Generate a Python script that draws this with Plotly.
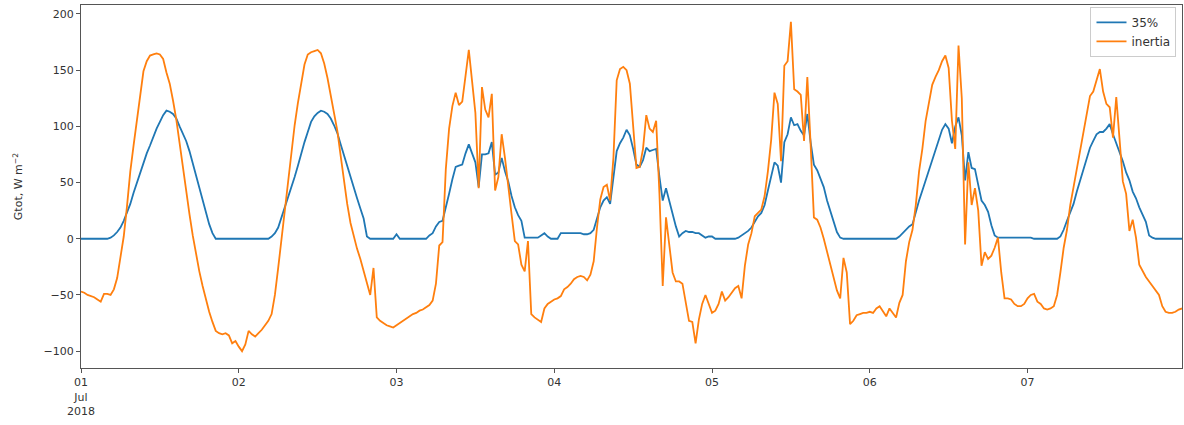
import pandas as pd
import plotly.graph_objects as go

# half-hourly samples, 1 Jul 2018 00:00 .. 7 Jul 2018 23:30
start = "2018-07-01 00:00"
n_points = 336
times = pd.date_range(start, periods=n_points, freq="30min")

series_names = ["35%", "inertia"]

g35 = [
    # day 1
    0,0,0,0,0,0,0,0,0,1,3,6,
    10,16,23,31,41,50,59,67,76,83,91,98,
    104,110,114,113,111,107,100,94,87,78,67,57,
    46,35,24,13,5,0,0,0,0,0,0,0,
    # day 2
    0,0,0,0,0,0,0,0,0,0,2,5,
    10,19,27,36,44,55,65,76,86,95,104,109,
    112,114,113,111,107,101,94,84,74,65,55,45,
    36,27,18,2,0,0,0,0,0,0,0,0,
    # day 3
    4,0,0,0,0,0,0,0,0,0,3,5,
    11,15,16,27,40,53,64,65,66,76,84,76,
    68,46,75,75,76,86,57,59,72,60,51,38,
    28,21,16,1,1,1,1,1,3,5,2,0,
    # day 4
    0,0,5,5,5,5,5,5,5,4,4,5,
    8,18,28,34,37,31,55,78,85,90,97,92,
    80,66,64,70,81,78,79,80,55,34,45,33,
    22,11,2,5,7,6,6,5,5,3,1,2,
    # day 5
    2,0,0,0,0,0,0,0,1,3,5,7,
    10,15,20,23,30,43,55,68,65,50,86,93,
    108,101,102,96,92,111,86,66,61,54,46,34,
    24,14,6,1,0,0,0,0,0,0,0,0,
    # day 6
    0,0,0,0,0,0,0,0,0,2,5,8,
    11,13,24,34,43,52,62,72,80,88,97,102,
    98,85,100,108,92,52,77,63,62,48,34,30,
    24,12,3,1,1,1,1,1,1,1,1,1,
    # day 7
    1,1,0,0,0,0,0,0,0,0,2,8,
    16,24,31,42,52,61,70,81,87,93,95,95,
    98,102,93,85,77,69,59,52,42,36,28,22,
    15,3,1,0,0,0,0,0,0,0,0,0,
]

inertia = [
    # day 1
    -47,-48,-50,-51,-52,-54,-56,-49,-49,-50,-45,-35,
    -18,2,29,60,83,105,131,149,158,163,164,165,
    164,160,148,138,123,106,85,63,41,22,3,-15,
    -29,-42,-54,-65,-74,-82,-84,-85,-84,-86,-93,-91,
    # day 2
    -96,-100,-94,-82,-85,-87,-84,-81,-77,-73,-67,-50,
    -26,0,26,52,80,101,121,140,155,164,166,167,
    168,165,156,143,128,112,96,74,52,31,14,1,
    -9,-18,-29,-39,-50,-26,-70,-73,-75,-77,-78,-79,
    # day 3
    -77,-75,-73,-71,-69,-67,-66,-64,-63,-61,-59,-55,
    -40,-6,-3,62,98,118,130,119,122,145,168,140,
    112,45,135,115,108,129,43,55,93,72,45,22,
    -2,-5,-23,-29,-2,-67,-70,-72,-74,-62,-58,-56,
    # day 4
    -54,-53,-51,-45,-43,-40,-36,-34,-33,-34,-37,-32,
    -20,10,35,46,48,34,72,141,151,153,150,138,
    99,63,64,80,110,98,95,105,40,-42,19,-5,
    -30,-38,-38,-40,-55,-73,-74,-93,-72,-58,-50,-58,
    # day 5
    -66,-64,-58,-47,-55,-52,-48,-44,-42,-53,-24,-5,
    5,20,23,26,38,60,88,130,120,69,154,158,
    193,133,131,128,87,144,84,19,17,10,0,-12,
    -24,-36,-46,-53,-17,-30,-76,-73,-68,-67,-66,-66,
    # day 6
    -65,-66,-62,-60,-64,-69,-62,-66,-70,-57,-50,-20,
    -3,8,30,60,80,105,122,137,144,150,158,163,
    152,105,80,172,125,-5,68,30,45,25,-24,-12,
    -18,-15,-8,1,-30,-53,-53,-54,-58,-60,-60,-58,
    # day 7
    -53,-50,-49,-56,-58,-62,-63,-62,-60,-50,-30,-8,
    8,30,46,62,78,94,110,127,131,142,151,131,
    120,117,90,126,87,51,40,7,17,1,-23,-29,
    -34,-38,-42,-46,-50,-60,-65,-66,-66,-65,-63,-62,
]

day_ticks = pd.date_range(start, periods=7, freq="D")
day_labels = ["01<br>Jul<br>2018", "02", "03", "04", "05", "06", "07"]
y_ticks = [-100, -50, 0, 50, 100, 150, 200]

colors = ["#1f77b4", "#ff7f0e"]

fig = go.Figure()
for name, vals, col in zip(series_names, [g35, inertia], colors):
    fig.add_trace(go.Scatter(x=times, y=vals, mode="lines", name=name,
                             line=dict(color=col, width=1.8)))

axis_common = dict(showline=True, linecolor="#555", linewidth=1, mirror=True,
                   ticks="outside", ticklen=4, tickcolor="#555", showgrid=False,
                   zeroline=False, automargin=False,
                   tickfont=dict(family="DejaVu Sans", size=11, color="#333"))

fig.update_layout(
    width=1184, height=425,
    margin=dict(l=81, r=2, t=5, b=57),
    paper_bgcolor="white", plot_bgcolor="white",
    font=dict(family="DejaVu Sans", size=11, color="#333"),
    xaxis=dict(range=[times[0], times[-1]], tickmode="array",
               tickvals=day_ticks, ticktext=day_labels, **axis_common),
    yaxis=dict(range=[-115, 208], tickmode="array", tickvals=y_ticks,
               title=dict(text="Gtot, W m<sup>−2</sup>", standoff=18,
                          font=dict(family="DejaVu Sans", size=11, color="#333")),
               **axis_common),
    legend=dict(x=0.995, xanchor="right", y=0.995, yanchor="top",
                bgcolor="rgba(255,255,255,0.9)", bordercolor="#ccc", borderwidth=1,
                font=dict(family="DejaVu Sans", size=12, color="#333")),
    showlegend=True,
)

fig.write_html("out.html", config={"displayModeBar": False},
               post_script="document.body.style.margin='0';document.body.style.overflow='hidden';")
